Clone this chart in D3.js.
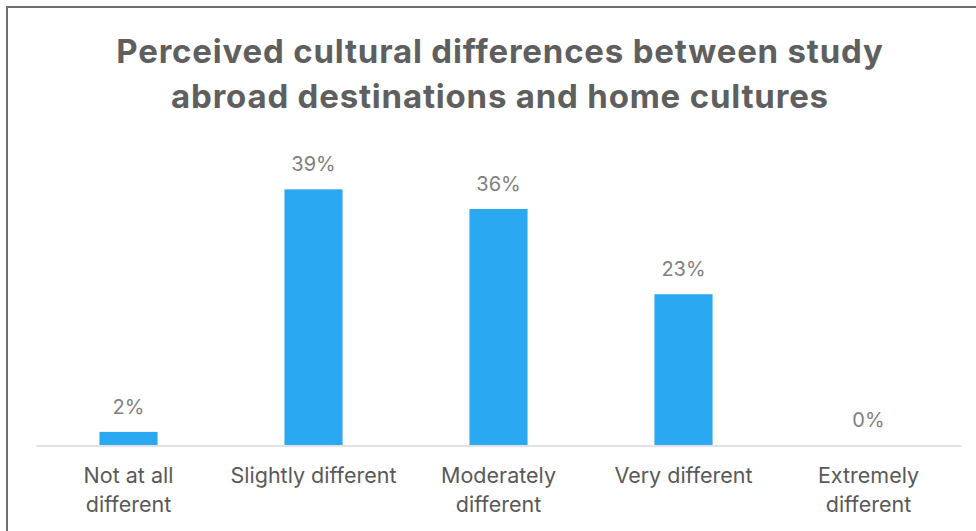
<!DOCTYPE html>
<html>
<head>
<meta charset="utf-8">
<script src="https://cdn.jsdelivr.net/npm/d3@7/dist/d3.min.js"></script>
<style>
  html, body { margin: 0; padding: 0; background: #ffffff; }
  svg { display: block; }
</style>
</head>
<body>
<svg id="chart" width="976" height="531"></svg>
<script>
// Survey answers and their shares (%)
const categories = [
  ["Not at all", "different"],
  ["Slightly different"],
  ["Moderately", "different"],
  ["Very different"],
  ["Extremely", "different"]
];
const shares = [2, 39, 36, 23, 0];
const titleLines = [
  "Perceived cultural differences between study",
  "abroad destinations and home cultures"
];

const svg = d3.select("#chart");

const fontStack = "Inter, 'Open Sans', 'Noto Sans', sans-serif";

// Outer frame of the chart area
svg.append("rect")
  .attr("x", 7).attr("y", 7)
  .attr("width", 1000).attr("height", 560)
  .attr("fill", "#ffffff")
  .attr("stroke", "#6e6e6e")
  .attr("stroke-width", 2);

// Title
const title = svg.append("text")
  .attr("text-anchor", "middle")
  .attr("font-family", fontStack)
  .attr("font-weight", 700)
  .attr("font-size", 33)
  .attr("letter-spacing", 0.8)
  .attr("fill", "#5f5f5f");
title.selectAll("tspan")
  .data(titleLines)
  .join("tspan")
  .attr("x", 500)
  .attr("y", (d, i) => 63 + i * 45)
  .text(d => d);

// Scales
const x = d3.scaleBand()
  .domain(d3.range(categories.length))
  .range([36, 961])
  .padding(0);
const y = d3.scaleLinear()
  .domain([0, 45])
  .range([445, 150]);

const barW = x.bandwidth() * 0.314;

// Baseline (category axis line)
const xAxis = d3.axisBottom(x).tickSize(0).tickFormat("");
const axisG = svg.append("g")
  .attr("transform", `translate(0,${y(0) + 0.5})`)
  .call(xAxis);
axisG.select(".domain").attr("stroke", "#d9d9d9").attr("stroke-width", 1.5);

// Bars
svg.append("g")
  .selectAll("rect")
  .data(shares)
  .join("rect")
  .attr("x", (d, i) => x(i) + (x.bandwidth() - barW) / 2)
  .attr("width", barW)
  .attr("y", d => y(d))
  .attr("height", d => y(0) - y(d))
  .attr("fill", "#2aa8f2");

// Value labels
svg.append("g")
  .selectAll("text")
  .data(shares)
  .join("text")
  .attr("x", (d, i) => x(i) + x.bandwidth() / 2)
  .attr("y", d => y(d) - 18)
  .attr("text-anchor", "middle")
  .attr("font-family", fontStack)
  .attr("font-size", 20)
  .attr("fill", "#7f7f7f")
  .text(d => d + "%");

// Category labels
const cat = svg.append("g")
  .selectAll("text")
  .data(categories)
  .join("text")
  .attr("text-anchor", "middle")
  .attr("font-family", fontStack)
  .attr("font-size", 21.5)
  .attr("fill", "#595959");
cat.each(function(lines, i) {
  d3.select(this).selectAll("tspan")
    .data(lines)
    .join("tspan")
    .attr("x", x(i) + x.bandwidth() / 2)
    .attr("y", (d, j) => 483 + j * 29)
    .text(d => d);
});
</script>
</body>
</html>
